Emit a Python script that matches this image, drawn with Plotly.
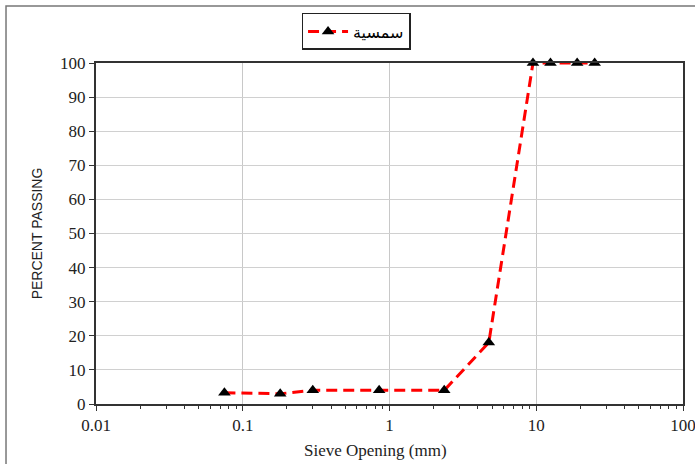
import plotly.graph_objects as go

sieve_mm = [0.075, 0.18, 0.3, 0.85, 2.36, 4.75, 9.5, 12.5, 19, 25]
percent_passing = [3.3, 3.0, 4.0, 4.0, 4.0, 18.0, 100, 100, 100, 100]
series_name = "سمسية"
x_ticks = [0.01, 0.1, 1, 10, 100]
x_tick_labels = ["0.01", "0.1", "1", "10", "100"]
y_ticks = list(range(0, 101, 10))
x_minor_ticks = [m * d for d in [0.01, 0.1, 1, 10] for m in range(2, 10)]

fig = go.Figure()
fig.add_trace(go.Scatter(
    x=sieve_mm, y=percent_passing, name=series_name, mode="lines+markers",
    line=dict(color="#ff0000", width=3, dash="11px,6px"),
    marker=dict(symbol="triangle-up", size=11, color="black"),
    cliponaxis=False,
))
# invisible helper trace so the minor-tick overlay axis is drawn
fig.add_trace(go.Scatter(
    x=sieve_mm, y=percent_passing, xaxis="x2", mode="markers",
    marker=dict(opacity=0), showlegend=False, hoverinfo="skip",
))

fig.update_layout(
    width=695, height=464,
    margin=dict(l=96, r=12, t=63, b=60, autoexpand=False),
    paper_bgcolor="white", plot_bgcolor="white",
    showlegend=True,
    legend=dict(
        x=0.443, xanchor="center", xref="paper",
        y=0.972, yanchor="top", yref="container",
        orientation="h",
        bordercolor="#222", borderwidth=1.5,
        font=dict(family="DejaVu Sans", size=16, color="black"),
        bgcolor="white", itemwidth=40,
    ),
    shapes=[dict(type="rect", xref="paper", yref="paper",
                 x0=-0.1533, x1=1.1, y0=-0.4, y1=1.167,
                 line=dict(color="#777", width=1.5), layer="below")],
    annotations=[dict(
        text="Sieve Opening (mm)", xref="paper", yref="paper",
        x=0.477, y=-0.135, xanchor="center", yanchor="middle", showarrow=False,
        font=dict(family="Liberation Serif", size=17, color="#222"),
    )],
    xaxis2=dict(
        overlaying="x", anchor="y", side="bottom", type="log", range=[-2, 2],
        tickvals=x_minor_ticks, ticks="outside", ticklen=4, tickcolor="#333",
        showticklabels=False, showgrid=False, showline=False, zeroline=False,
        automargin=False,
    ),
)

fig.layout.xaxis.update(
    type="log", range=[-2, 2],
    tickvals=x_ticks, ticktext=x_tick_labels,
    showgrid=True, gridcolor="#c8c8c8", gridwidth=1,
    showline=True, linecolor="#333", linewidth=2, mirror=True,
    ticks="outside", ticklen=5, tickcolor="#333",
    tickfont=dict(family="Liberation Serif", size=17, color="#222"),
    ticklabeloverflow="allow",
    zeroline=False, automargin=False,
)
fig.layout.yaxis.update(
    range=[0, 100], tickvals=y_ticks,
    showgrid=True, gridcolor="#d0d0d0", gridwidth=1,
    showline=True, linecolor="#333", linewidth=2, mirror=True,
    ticks="outside", ticklen=5, tickcolor="#333",
    tickfont=dict(family="Liberation Serif", size=17, color="#222"),
    title=dict(text="PERCENT PASSING", font=dict(family="Liberation Sans", size=14, color="#222"), standoff=14),
    zeroline=False, automargin=False,
)

fig.write_html("out.html")
